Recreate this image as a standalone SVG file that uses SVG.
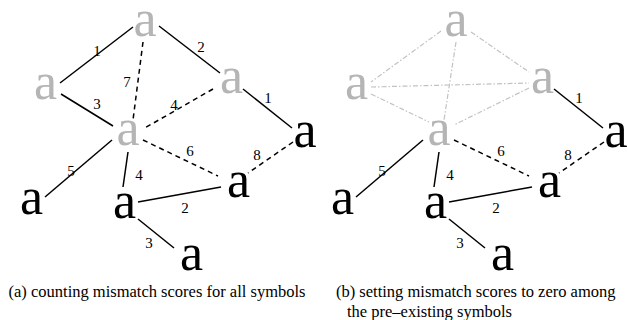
<svg xmlns="http://www.w3.org/2000/svg" width="628" height="320" viewBox="0 0 628 320">
<style>
.n{font-size:52px;text-anchor:middle}
.g{fill:#b5b5b5}
.k{fill:#000}
.lb{font-size:15px;text-anchor:middle;fill:#000}
.cap{font-size:16.5px;fill:#000}
.s{stroke:#000;stroke-width:1.5;fill:none}
.d{stroke:#000;stroke-width:1.5;fill:none;stroke-dasharray:5 4}
.dd{stroke:#c2c2c2;stroke-width:1.2;fill:none;stroke-dasharray:5 2 1.5 2}
</style>
<rect width="628" height="320" fill="#fff"/>
<g font-family="Liberation Serif, serif">
<g id="connectors">
<line class="s" x1="133" y1="27" x2="60" y2="83"/>
<line class="s" x1="159" y1="26" x2="220" y2="73"/>
<line class="d" x1="143" y1="42" x2="133" y2="120"/>
<line class="s" x1="61" y1="94" x2="113" y2="126"/>
<line class="d" x1="213" y1="89" x2="143" y2="129"/>
<line class="s" x1="243" y1="89" x2="292" y2="128"/>
<line class="d" x1="143" y1="140" x2="218" y2="176"/>
<line class="d" x1="293" y1="142" x2="248" y2="173"/>
<line class="s" x1="112" y1="140" x2="45" y2="197"/>
<line class="s" x1="128" y1="152" x2="123" y2="187"/>
<line class="s" x1="138" y1="202" x2="221" y2="187"/>
<line class="s" x1="138" y1="219" x2="174" y2="248"/>
<line class="dd" x1="441" y1="31" x2="371" y2="82"/>
<line class="dd" x1="471" y1="32" x2="529" y2="72"/>
<line class="dd" x1="456" y1="42" x2="444" y2="120"/>
<line class="dd" x1="371" y1="87" x2="529" y2="83"/>
<line class="dd" x1="371" y1="94" x2="429" y2="122"/>
<line class="dd" x1="529" y1="88" x2="454" y2="125"/>
<line class="s" x1="554" y1="89" x2="603" y2="128"/>
<line class="d" x1="454" y1="140" x2="529" y2="176"/>
<line class="d" x1="604" y1="142" x2="559" y2="173"/>
<line class="s" x1="423" y1="140" x2="356" y2="197"/>
<line class="s" x1="439" y1="152" x2="434" y2="187"/>
<line class="s" x1="449" y1="202" x2="532" y2="187"/>
<line class="s" x1="449" y1="219" x2="485" y2="248"/>
<text class="lb" x="97" y="56">1</text>
<text class="lb" x="201" y="52">2</text>
<text class="lb" x="127" y="87">7</text>
<text class="lb" x="97" y="109">3</text>
<text class="lb" x="174" y="110">4</text>
<text class="lb" x="268" y="103">1</text>
<text class="lb" x="190" y="156">6</text>
<text class="lb" x="257" y="160">8</text>
<text class="lb" x="71" y="176">5</text>
<text class="lb" x="139" y="180">4</text>
<text class="lb" x="185" y="213">2</text>
<text class="lb" x="149" y="248">3</text>
<text class="lb" x="579" y="103">1</text>
<text class="lb" x="501" y="156">6</text>
<text class="lb" x="568" y="160">8</text>
<text class="lb" x="382" y="176">5</text>
<text class="lb" x="450" y="180">4</text>
<text class="lb" x="496" y="213">2</text>
<text class="lb" x="460" y="248">3</text>
</g>
<g id="a-top"><text class="n g" x="145" y="36">a</text></g>
<g id="a-left"><text class="n g" x="45.5" y="99">a</text></g>
<g id="a-mid"><text class="n g" x="128" y="145">a</text></g>
<g id="a-right"><text class="n g" x="231.5" y="93">a</text></g>
<g id="a-farright"><text class="n k" x="305" y="147">a</text></g>
<g id="a-b1"><text class="n k" x="31.5" y="214">a</text></g>
<g id="a-b2"><text class="n k" x="124.5" y="218">a</text></g>
<g id="a-b3"><text class="n k" x="238.5" y="197">a</text></g>
<g id="a-b4"><text class="n k" x="191.5" y="270">a</text></g>
<g id="b-top"><text class="n g" x="456" y="36">a</text></g>
<g id="b-left"><text class="n g" x="356.5" y="99">a</text></g>
<g id="b-mid"><text class="n g" x="439" y="145">a</text></g>
<g id="b-right"><text class="n g" x="542.5" y="93">a</text></g>
<g id="b-farright"><text class="n k" x="616" y="147">a</text></g>
<g id="b-b1"><text class="n k" x="342.5" y="214">a</text></g>
<g id="b-b2"><text class="n k" x="435.5" y="218">a</text></g>
<g id="b-b3"><text class="n k" x="549.5" y="197">a</text></g>
<g id="b-b4"><text class="n k" x="502.5" y="270">a</text></g>
<text class="cap" x="157" y="297" text-anchor="middle">(a) counting mismatch scores for all symbols</text>
<text class="cap" x="336" y="297">(b) setting mismatch scores to zero among</text>
<text class="cap" x="347" y="317">the pre–existing symbols</text>
</g>
</svg>
